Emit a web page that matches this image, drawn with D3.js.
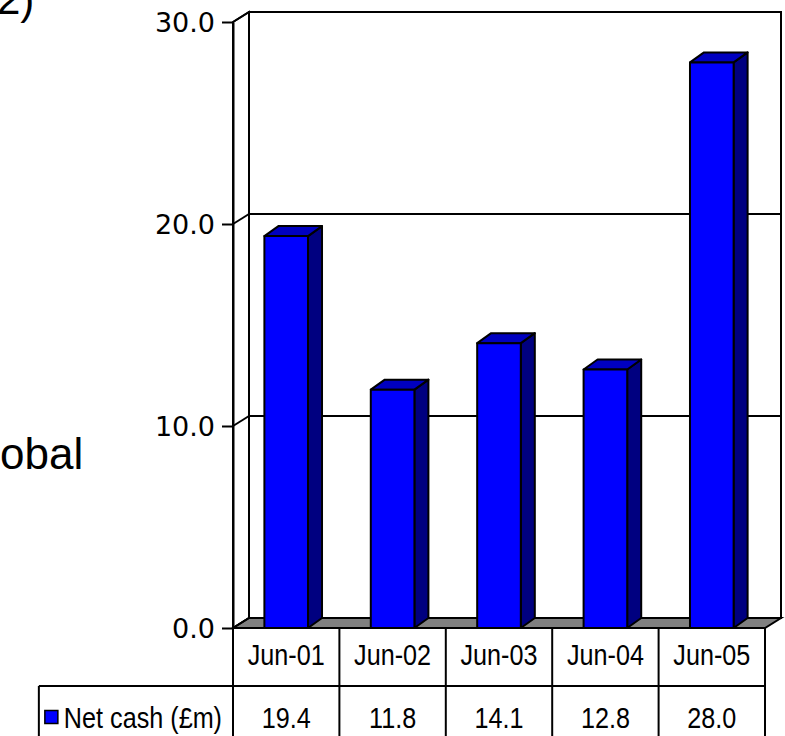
<!DOCTYPE html>
<html>
<head>
<meta charset="utf-8">
<script src="https://cdn.jsdelivr.net/npm/d3@7"></script>
<style>
  html, body { margin: 0; padding: 0; background: #fff; }
  svg { display: block; }
  .cell { font-family: "Liberation Sans", Arial, sans-serif; }
</style>
</head>
<body>
<svg id="chart" width="785" height="736"></svg>
<script>
// Net cash by half-year end (£m)
const categories = ["Jun-01", "Jun-02", "Jun-03", "Jun-04", "Jun-05"];
const netCash = [19.4, 11.8, 14.1, 12.8, 28.0];
const seriesName = "Net cash (£m)";
const yTicks = [0, 10, 20, 30];

const svg = d3.select("#chart");

// plot geometry: front plane of the 3-D box and its depth offset
const plotLeft = 233, plotRight = 765, plotTop = 22, plotBottom = 628;
const depth = { dx: 16, dy: -10 };      // walls / floor
const barDepth = { dx: 14, dy: -10 };   // column depth
const rowH = 58;                         // data-table row height
const squeeze = 0.84;                    // condensed table lettering
const cellFont = 30;

const y = d3.scaleLinear().domain([0, 30]).range([plotBottom, plotTop]);
const x = d3.scaleBand().domain(categories).range([plotLeft, plotRight]).padding(0);
const barW = x.bandwidth() * 0.41;

const line = { stroke: "#000", "stroke-width": 2, fill: "none" };
function attrs(sel, o) { for (const k in o) sel.attr(k, o[k]); return sel; }
const pts = p => p.map(d => d.join(",")).join(" ");

// slide text partially visible around the chart
svg.append("text").attr("x", -3).attr("y", 14)
  .attr("font-family", "Liberation Sans, Arial, sans-serif").attr("font-size", 42)
  .text("2)");
svg.append("text").attr("x", 0).attr("y", 469)
  .attr("font-family", "Liberation Sans, Arial, sans-serif").attr("font-size", 44)
  .text("obal");

const g = svg.append("g");

// back wall
attrs(g.append("rect"), line)
  .attr("x", plotLeft + depth.dx).attr("y", y(30) + depth.dy)
  .attr("width", plotRight - plotLeft).attr("height", y(0) - y(30))
  .attr("fill", "#fff");

// left side wall
attrs(g.append("polygon"), line).attr("fill", "#fff")
  .attr("points", pts([[plotLeft, y(30)], [plotLeft + depth.dx, y(30) + depth.dy],
                        [plotLeft + depth.dx, y(0) + depth.dy], [plotLeft, y(0)]]));

// floor
attrs(g.append("polygon"), line).attr("fill", "#808080")
  .attr("points", pts([[plotLeft, y(0)], [plotLeft + depth.dx, y(0) + depth.dy],
                        [plotRight + depth.dx, y(0) + depth.dy], [plotRight, y(0)]]));

// gridlines on back wall and their diagonals across the side wall
yTicks.forEach(v => {
  if (v > 0 && v < 30) {
    attrs(g.append("line"), line)
      .attr("x1", plotLeft + depth.dx).attr("x2", plotRight + depth.dx)
      .attr("y1", y(v) + depth.dy).attr("y2", y(v) + depth.dy);
  }
  attrs(g.append("line"), line)
    .attr("x1", plotLeft).attr("y1", y(v))
    .attr("x2", plotLeft + depth.dx).attr("y2", y(v) + depth.dy);
});

// columns
const bars = g.selectAll("g.bar").data(categories.map((c, i) => ({ c, v: netCash[i] })))
  .join("g").attr("class", "bar");
bars.each(function (d) {
  const b = d3.select(this);
  const x0 = x(d.c) + (x.bandwidth() - barW) / 2, x1 = x0 + barW;
  const yt = y(d.v), yb = y(0);
  const st = { stroke: "#000", "stroke-width": 2, "stroke-linejoin": "round" };
  // side
  attrs(b.append("polygon"), st).attr("fill", "#000080")
    .attr("points", pts([[x1, yt], [x1 + barDepth.dx, yt + barDepth.dy],
                          [x1 + barDepth.dx, yb + barDepth.dy], [x1, yb]]));
  // top
  attrs(b.append("polygon"), st).attr("fill", "#0000c0")
    .attr("points", pts([[x0, yt], [x0 + barDepth.dx, yt + barDepth.dy],
                          [x1 + barDepth.dx, yt + barDepth.dy], [x1, yt]]));
  // front
  attrs(b.append("rect"), st).attr("fill", "#0000ff")
    .attr("x", x0).attr("y", yt).attr("width", barW).attr("height", yb - yt);
});

// value axis
const axis = d3.axisLeft(y).tickValues(yTicks).tickFormat(d3.format(".1f"))
  .tickSize(11).tickSizeOuter(0).tickPadding(7);
const ax = svg.append("g").attr("transform", `translate(${plotLeft},0)`).call(axis);
ax.selectAll("path, line").attr("stroke", "#000").attr("stroke-width", 2);
ax.selectAll("text").attr("font-family", "DejaVu Sans, sans-serif")
  .attr("font-size", 27).attr("fill", "#000").attr("dy", "0.36em");

// data table
const tbl = svg.append("g");
const row1 = plotBottom, row2 = plotBottom + rowH, row3 = plotBottom + 2 * rowH;
const catY = 654, valY = 717;

// condensed cell text, centred vertically on cy
function cellText(cx, cy, str, anchor) {
  const t = tbl.append("g").attr("transform", `translate(${cx},${cy}) scale(${squeeze},1)`)
    .append("text").attr("class", "cell")
    .attr("text-anchor", anchor).attr("dy", "0.36em")
    .attr("font-size", cellFont).attr("fill", "#000").text(str);
  return t.node().getComputedTextLength() * squeeze;
}
categories.forEach(c => cellText(x(c) + x.bandwidth() / 2, catY, c, "middle"));
netCash.forEach((v, i) =>
  cellText(x(categories[i]) + x.bandwidth() / 2, valY, d3.format(".1f")(v), "middle"));

// legend key: series name right-aligned in the first column, key square before it
const nameEnd = plotLeft - 11;
const nameW = cellText(nameEnd, valY, seriesName, "end");
const keySize = 13;
const keyX = nameEnd - nameW - 6 - keySize;
const legendLeft = keyX - 6;
tbl.append("rect").attr("x", keyX).attr("y", valY - keySize / 2)
  .attr("width", keySize).attr("height", keySize)
  .attr("fill", "#0000ff").attr("stroke", "#000").attr("stroke-width", 1.5);

// table rules
attrs(tbl.append("line"), line).attr("x1", legendLeft).attr("x2", plotRight)
  .attr("y1", row2).attr("y2", row2);
attrs(tbl.append("line"), line).attr("x1", legendLeft).attr("x2", plotRight)
  .attr("y1", row3).attr("y2", row3);
attrs(tbl.append("line"), line).attr("x1", legendLeft).attr("x2", legendLeft)
  .attr("y1", row2).attr("y2", row3);
categories.forEach(c => {
  attrs(tbl.append("line"), line).attr("x1", x(c)).attr("x2", x(c))
    .attr("y1", row1).attr("y2", row3);
});
attrs(tbl.append("line"), line).attr("x1", plotRight).attr("x2", plotRight)
  .attr("y1", row1).attr("y2", row3);
</script>
</body>
</html>
